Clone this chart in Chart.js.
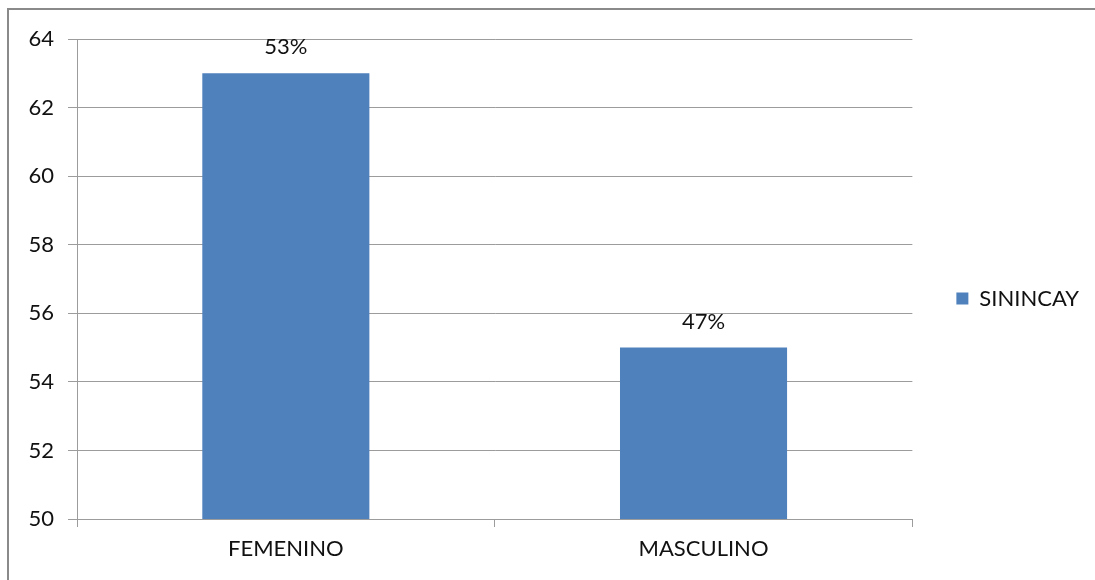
<!DOCTYPE html>
<html>
<head>
<meta charset="utf-8">
<script src="https://cdn.jsdelivr.net/npm/chart.js@4/dist/chart.umd.min.js"></script>
<style>
html,body{margin:0;padding:0;background:#fff;}
#wrap{position:absolute;left:0;top:0;width:1095px;height:580px;}
</style>
</head>
<body>
<div id="wrap"><canvas id="c" width="1095" height="580"></canvas></div>
<script>
const categories = ["FEMENINO", "MASCULINO"];
const seriesName = "SININCAY";
const values = [63, 55];
const pctLabels = ["53%", "47%"];
const yTicks = [50, 52, 54, 56, 58, 60, 62, 64];

const FONT = "Lato, 'Open Sans', sans-serif";
const TEXT = "#111111";
const GRID = "#9c9c9c";

const borderPlugin = {
  id: 'frame',
  beforeDraw(chart) {
    const ctx = chart.ctx;
    ctx.save();
    ctx.fillStyle = '#fff';
    ctx.fillRect(0, 0, chart.width, chart.height);
    ctx.strokeStyle = '#8a8a8a';
    ctx.lineWidth = 2;
    ctx.beginPath();
    ctx.moveTo(8, 590);
    ctx.lineTo(8, 9);
    ctx.lineTo(1100, 9);
    ctx.stroke();
    ctx.restore();
  }
};

const labelPlugin = {
  id: 'barLabels',
  afterDatasetsDraw(chart) {
    const ctx = chart.ctx;
    const meta = chart.getDatasetMeta(0);
    ctx.save();
    ctx.font = "22px " + FONT;
    ctx.fillStyle = TEXT;
    ctx.textAlign = 'center';
    ctx.textBaseline = 'bottom';
    meta.data.forEach((bar, i) => {
      ctx.fillText(pctLabels[i], bar.x, bar.y - 15);
    });
    ctx.restore();
  }
};

new Chart(document.getElementById('c'), {
  type: 'bar',
  data: {
    labels: categories,
    datasets: [{
      label: seriesName,
      data: values,
      backgroundColor: '#4F81BD',
      borderWidth: 0,
      categoryPercentage: 1.0,
      barPercentage: 0.4
    }]
  },
  options: {
    responsive: false,
    animation: false,
    devicePixelRatio: 1,
    layout: { padding: { top: 39, left: 20, right: 6, bottom: 22 } },
    plugins: {
      legend: {
        position: 'right',
        align: 'center',
        labels: {
          boxWidth: 12,
          boxHeight: 12,
          color: TEXT,
          font: { family: FONT, size: 22 },
          padding: 10
        }
      },
      tooltip: { enabled: false }
    },
    scales: {
      x: {
        offset: true,
        grid: {
          offset: true,
          drawOnChartArea: false,
          drawTicks: true,
          tickLength: 8,
          color: GRID
        },
        border: { color: GRID, width: 1 },
        ticks: { color: TEXT, font: { family: FONT, size: 22 }, padding: 9 },
        afterFit(s) { s.height = 39; }
      },
      y: {
        min: 50,
        max: 64,
        afterBuildTicks(s) { s.ticks = yTicks.map(v => ({ value: v })); },
        grid: { color: GRID, tickLength: 9, drawTicks: true },
        border: { color: GRID, width: 1 },
        ticks: { color: TEXT, font: { family: FONT, size: 22 }, padding: 14 },
        afterFit(s) { s.width = 57; }
      },
      spacer: {
        type: 'linear',
        position: 'right',
        display: true,
        grid: { display: false },
        border: { display: false },
        ticks: { display: false },
        afterFit(s) { s.width = 34; }
      }
    }
  },
  plugins: [borderPlugin, labelPlugin]
});
</script>
</body>
</html>
